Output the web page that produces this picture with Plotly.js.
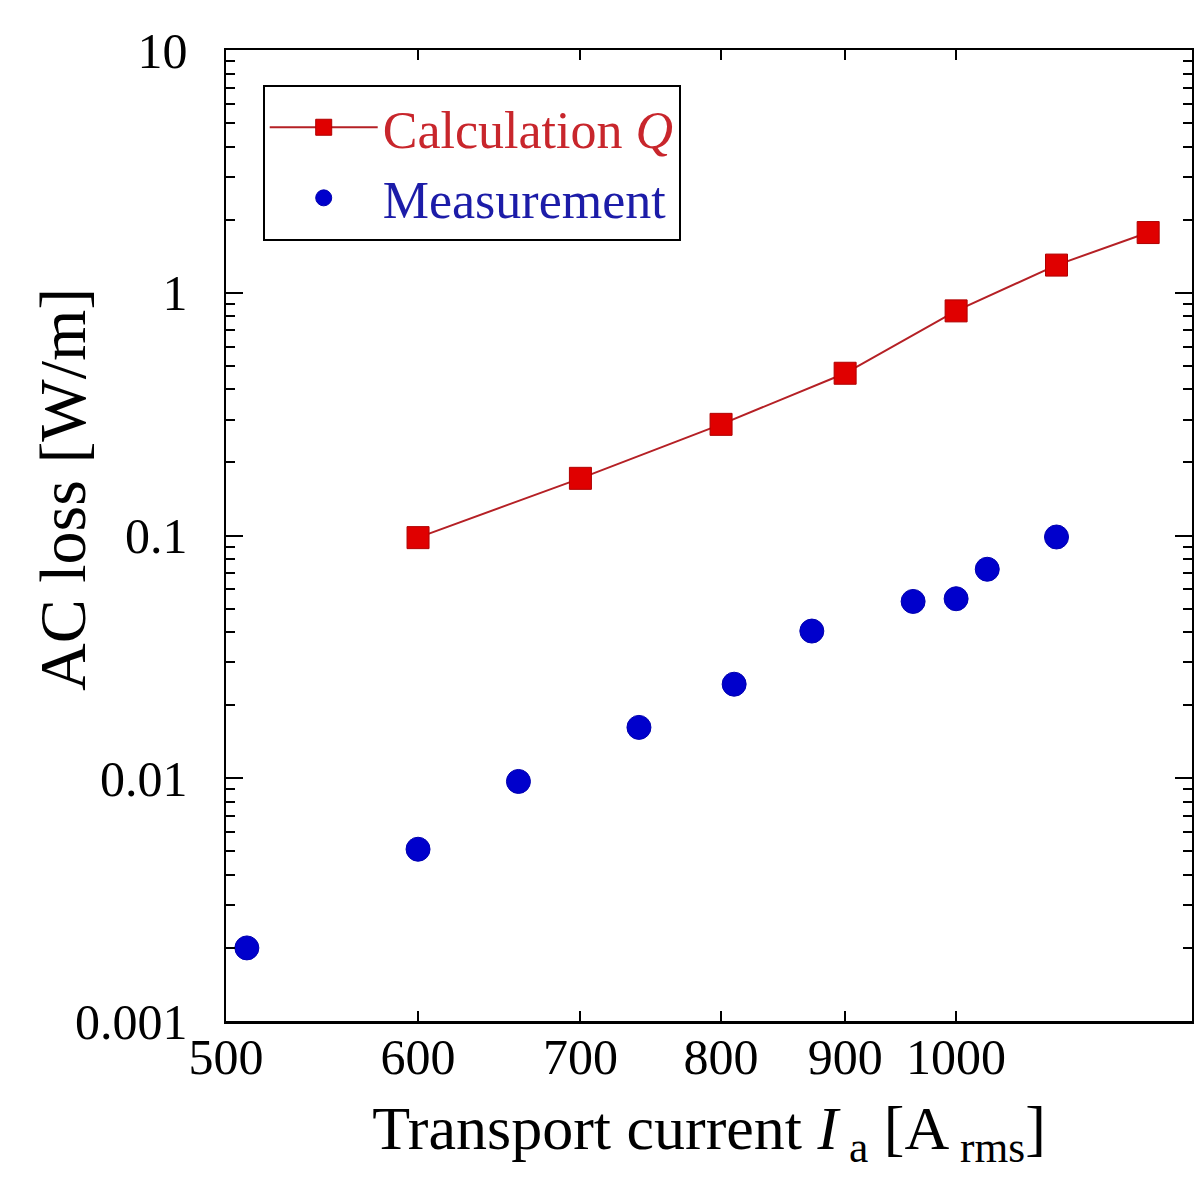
<!DOCTYPE html>
<html>
<head>
<meta charset="utf-8">
<script src="https://cdn.plot.ly/plotly-3.0.1.min.js"></script>
<style>html,body{margin:0;padding:0;background:#fff;}#chart{width:1194px;height:1179px;}</style>
</head>
<body>
<div id="chart"></div>
<script>
// Calculation Q (red squares with line)
var calcCurrent = [600, 700, 800, 900, 1000, 1100, 1200];
var calcLoss = [0.098, 0.172, 0.287, 0.466, 0.842, 1.30, 1.77];
// Measurement (blue circles)
var measCurrent = [510, 600, 660, 740, 810, 872, 960, 1000, 1030, 1100];
var measLoss = [0.0020, 0.0051, 0.0097, 0.0162, 0.0244, 0.0404, 0.0535, 0.0549, 0.0726, 0.0986];
// Tick labels
var xTickVals = [500, 600, 700, 800, 900, 1000];
var xTickText = ['500', '600', '700', '800', '900', '1000'];
var yTickVals = [0.001, 0.01, 0.1, 1, 10];
var yTickText = ['0.001', '0.01', '0.1', '1', '10'];
var xDecadeTick = [1000];

var FONT = 'Liberation Serif, Times New Roman, serif';

var traces = [
  {
    x: calcCurrent, y: calcLoss, type: 'scatter', mode: 'lines+markers',
    name: 'Calculation <i>Q</i>',
    line: {color: '#b52025', width: 2},
    marker: {symbol: 'square', size: 22, color: '#e00000', line: {color: '#b00000', width: 1}}
  },
  {
    x: measCurrent, y: measLoss, type: 'scatter', mode: 'markers',
    name: 'Measurement',
    marker: {symbol: 'circle', size: 24, color: '#0000cc', line: {color: '#0000b0', width: 1}}
  }
];

var layout = {
  width: 1194, height: 1179,
  margin: {l: 226, r: 2, t: 50, b: 158},
  paper_bgcolor: '#ffffff', plot_bgcolor: '#ffffff',
  font: {family: FONT, color: '#000000', size: 50},
  showlegend: true,
  legend: {
    x: 0.038, y: 0.964, xanchor: 'left', yanchor: 'top',
    bordercolor: '#000000', borderwidth: 2, bgcolor: '#ffffff',
    font: {family: FONT, size: 52},
    itemwidth: 108
  },
  xaxis: {
    type: 'log', range: [Math.log10(500), Math.log10(1251)],
    tickvals: xTickVals, ticktext: xTickText,
    ticks: 'inside', ticklen: 10, tickwidth: 2, tickcolor: '#000',
    showline: true, linecolor: '#000', linewidth: 2.5, mirror: 'ticks',
    showgrid: false, zeroline: false,
    ticklabelstandoff: -10,
    tickfont: {family: FONT, size: 50, color: '#000'},
    title: {text: 'Transport current <i>I</i><sub> a</sub> [A<sub> rms</sub>]', font: {family: FONT, size: 62, color: '#000'}, standoff: 22}
  },
  xaxis2: {
    type: 'log', range: [Math.log10(500), Math.log10(1251)],
    overlaying: 'x', anchor: 'y',
    tickvals: xDecadeTick, showticklabels: false,
    ticks: 'inside', ticklen: 20, tickwidth: 2, tickcolor: '#000',
    showline: false, mirror: 'ticks', showgrid: false, zeroline: false
  },
  yaxis: {
    type: 'log', range: [-3, 1],
    tickvals: yTickVals, ticktext: yTickText,
    ticks: 'inside', ticklen: 17, tickwidth: 2, tickcolor: '#000',
    minor: {ticks: 'inside', ticklen: 9, tickwidth: 2, tickcolor: '#000', dtick: 'D1'},
    showline: true, linecolor: '#000', linewidth: 2.5, mirror: 'ticks',
    showgrid: false, zeroline: false,
    ticklabelstandoff: 26,
    tickfont: {family: FONT, size: 50, color: '#000'}
  },
  annotations: [{
    text: 'AC loss [W/m]', textangle: -90,
    xref: 'paper', yref: 'paper',
    x: (62 - 226) / 966, y: 1 - (490 - 50) / 971,
    xanchor: 'center', yanchor: 'middle', showarrow: false,
    font: {family: FONT, size: 66, color: '#000'}
  }]
};

Plotly.newPlot('chart', traces, layout, {displayModeBar: false, staticPlot: true}).then(function(){
  var texts = document.querySelectorAll('.legendtext');
  if (texts[0]) texts[0].style.fill = '#c8262c';
  if (texts[1]) texts[1].style.fill = '#1c1ca8';
});
</script>
</body>
</html>
